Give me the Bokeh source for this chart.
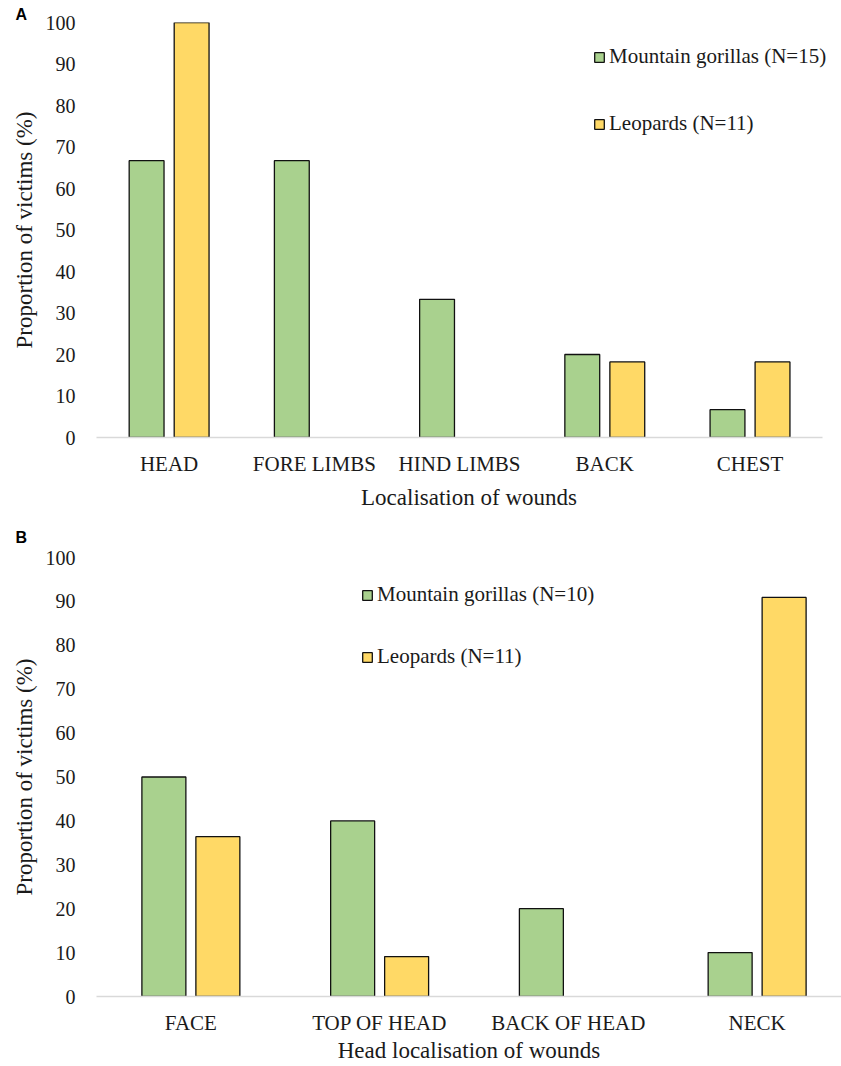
from bokeh.plotting import figure
from bokeh.models import (ColumnDataSource, Range1d, Legend, LegendItem,
                          SingleIntervalTicker, FixedTicker)
from bokeh.layouts import column
from bokeh.embed import file_html
from bokeh.resources import INLINE

# ---- data ----
cats_a = ["HEAD", "FORE LIMBS", "HIND LIMBS", "BACK", "CHEST"]
gorillas_a = [66.7, 66.7, 33.3, 20.0, 6.7]
leopards_a = [100.0, 0.0, 0.0, 18.2, 18.2]
label_gor_a = "Mountain gorillas (N=15)"
label_leo_a = "Leopards (N=11)"

cats_b = ["FACE", "TOP OF HEAD", "BACK OF HEAD", "NECK"]
gorillas_b = [50.0, 40.0, 20.0, 10.0]
leopards_b = [36.4, 9.1, 0.0, 90.9]
label_gor_b = "Mountain gorillas (N=10)"
label_leo_b = "Leopards (N=11)"

GREEN = "#A9D18E"
YELLOW = "#FFD966"
FONT = "Liberation Serif"
TXT = "#1a1a1a"


def src(vals, shift):
    xs = [i + 0.5 + shift for i, v in enumerate(vals) if v > 0]
    vs = [v for v in vals if v > 0]
    return ColumnDataSource(dict(x=xs, val=vs))


def make_panel(cats, gor, leo, lg, ll, height, borders, x_end, off, bw, xlabel,
               legend_loc, legend_spacing, panel_letter, letter_offset, letter_standoff,
               xlabel_standoff):
    top, right, bottom, left = borders
    p = figure(width=841, height=height, x_range=Range1d(0, x_end),
               y_range=Range1d(0, 100), output_backend="svg", toolbar_location=None,
               min_border_top=top, min_border_right=right, min_border_bottom=bottom,
               min_border_left=left, title=panel_letter)
    p.title.align = "left"
    p.title.offset = letter_offset
    p.title.standoff = letter_standoff
    p.title.text_font = "Liberation Sans"
    p.title.text_font_style = "bold"
    p.title.text_font_size = "16px"
    p.title.text_color = "#000000"

    p.outline_line_color = None
    p.xgrid.grid_line_color = None
    p.ygrid.grid_line_color = None

    rg = p.vbar(x="x", top="val", width=bw, source=src(gor, -off),
                fill_color=GREEN, line_color="#111111", line_width=1.3)
    rl = p.vbar(x="x", top="val", width=bw, source=src(leo, off),
                fill_color=YELLOW, line_color="#111111", line_width=1.3)

    p.yaxis.ticker = SingleIntervalTicker(interval=10)
    p.yaxis.axis_line_color = None
    p.yaxis.major_tick_line_color = None
    p.yaxis.minor_tick_line_color = None
    p.yaxis.major_label_standoff = 15
    p.yaxis.axis_label = "Proportion of victims (%)"
    p.yaxis.axis_label_standoff = 6

    centers = [i + 0.5 for i in range(len(cats))]
    p.xaxis.ticker = FixedTicker(ticks=centers)
    p.xaxis.major_label_overrides = {c: name for c, name in zip(centers, cats)}
    p.xaxis.bounds = (0, len(cats))
    p.xaxis.axis_line_color = "#d9d9d9"
    p.xaxis.axis_line_width = 1.3
    p.xaxis.major_tick_line_color = None
    p.xaxis.minor_tick_line_color = None
    p.xaxis.major_label_standoff = 8
    p.xaxis.axis_label = xlabel
    p.xaxis.axis_label_standoff = xlabel_standoff

    for ax in (p.xaxis, p.yaxis):
        ax.major_label_text_font = FONT
        ax.major_label_text_color = TXT
        ax.axis_label_text_font = FONT
        ax.axis_label_text_font_size = "23px"
        ax.axis_label_text_font_style = "normal"
        ax.axis_label_text_color = TXT
    p.yaxis.major_label_text_font_size = "20px"
    p.xaxis.major_label_text_font_size = "21px"

    legend = Legend(items=[LegendItem(label=lg, renderers=[rg]),
                           LegendItem(label=ll, renderers=[rl])],
                    location=legend_loc, orientation="vertical",
                    glyph_width=12, glyph_height=12, label_height=24,
                    spacing=legend_spacing, label_standoff=4, padding=0, margin=0,
                    border_line_color=None, background_fill_alpha=0,
                    label_text_font=FONT, label_text_font_size="21px",
                    label_text_color=TXT)
    p.add_layout(legend, "center")
    return p


pa = make_panel(cats_a, gorillas_a, leopards_a, label_gor_a, label_leo_a,
                height=512, borders=(22, 0, 74, 96), x_end=5.13, off=0.155, bw=0.24,
                xlabel="Localisation of wounds", legend_loc=(497, 301),
                legend_spacing=42, panel_letter="A", letter_offset=-81,
                letter_standoff=0, xlabel_standoff=6)
pb = make_panel(cats_b, gorillas_b, leopards_b, label_gor_b, label_leo_b,
                height=553, borders=(45, 0, 68, 95), x_end=3.947, off=0.143, bw=0.233,
                xlabel="Head localisation of wounds", legend_loc=(265, 327),
                legend_spacing=37, panel_letter="B", letter_offset=-81,
                letter_standoff=24, xlabel_standoff=0)

layout = column(pa, pb, spacing=0)
open("out.html", "w").write(file_html(layout, INLINE))
